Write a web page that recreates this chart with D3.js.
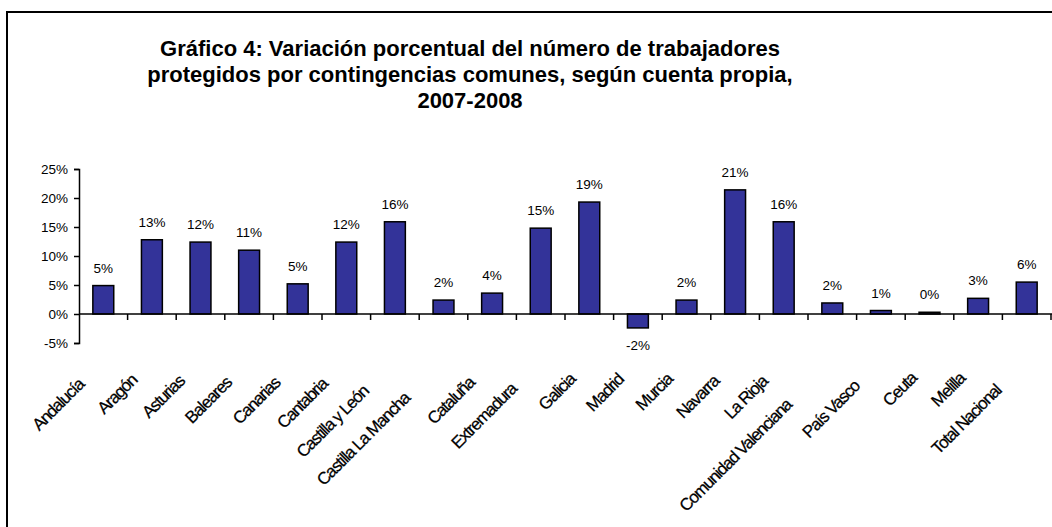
<!DOCTYPE html>
<html>
<head>
<meta charset="utf-8">
<script src="https://cdn.jsdelivr.net/npm/d3@7"></script>
<style>
  body { margin: 0; background: #fff; }
  text { font-family: "Liberation Sans", Arial, sans-serif; }
</style>
</head>
<body>
<svg id="chart" width="1052" height="527"></svg>
<script>
const titleLines = [
  'Gráfico 4: Variación porcentual del número de trabajadores',
  'protegidos por contingencias comunes, según cuenta propia,',
  '2007-2008'
];

const regions = ['Andalucía', 'Aragón', 'Asturias', 'Baleares', 'Canarias', 'Cantabria',
  'Castilla y León', 'Castilla La Mancha', 'Cataluña', 'Extremadura', 'Galicia', 'Madrid',
  'Murcia', 'Navarra', 'La Rioja', 'Comunidad Valenciana', 'País Vasco', 'Ceuta', 'Melilla',
  'Total Nacional'];

const variation = [4.9, 12.8, 12.4, 11.0, 5.2, 12.4, 15.9, 2.4, 3.6, 14.8, 19.3, -2.4,
  2.4, 21.4, 15.9, 1.9, 0.6, 0.3, 2.7, 5.5];

const yTicks = [-5, 0, 5, 10, 15, 20, 25];

const svg = d3.select('#chart');

//outer frame
svg.append('rect')
  .attr('x', 7).attr('y', 12)
  .attr('width', 1100).attr('height', 560)
  .attr('fill', 'none')
  .attr('stroke', '#000')
  .attr('stroke-width', 2);

//title
svg.append('g')
  .selectAll('text')
  .data(titleLines)
  .enter()
  .append('text')
  .attr('x', 470)
  .attr('y', (d, i) => 56 + i * 26)
  .attr('text-anchor', 'middle')
  .attr('font-size', 22)
  .attr('font-weight', 'bold')
  .text(d => d);

//scales
const x = d3.scaleBand().domain(regions).range([79, 1051]).paddingInner(0.57).paddingOuter(0.285);
const y = d3.scaleLinear().domain([-5, 25]).range([343, 169]);

//y axis
const yAxis = d3.axisLeft(y)
  .tickValues(yTicks)
  .tickSize(5)
  .tickPadding(6)
  .tickFormat(d => `${d}%`);

const yAxisGroup = svg.append('g')
  .attr('transform', 'translate(79,0)')
  .call(yAxis);

yAxisGroup.select('.domain').attr('stroke-width', 1.5);
yAxisGroup.selectAll('.tick line').attr('stroke-width', 1.5);
yAxisGroup.selectAll('text')
  .attr('font-size', 13.5)
  .attr('font-family', '"Liberation Sans", Arial, sans-serif');

//bars
svg.append('g')
  .selectAll('rect')
  .data(variation)
  .enter()
  .append('rect')
  .attr('x', (d, i) => x(regions[i]))
  .attr('width', x.bandwidth())
  .attr('y', d => y(Math.max(0, d)))
  .attr('height', d => Math.abs(y(d) - y(0)))
  .attr('fill', '#333399')
  .attr('stroke', '#000')
  .attr('stroke-width', 1.5);

//x axis at zero with ticks between categories
const step = x.step();
const boundaries = regions.map(r => x(r) - step * 0.285 + step);
const xAxisGroup = svg.append('g');

xAxisGroup.append('line')
  .attr('x1', 79).attr('x2', 1052)
  .attr('y1', y(0)).attr('y2', y(0))
  .attr('stroke', '#000')
  .attr('stroke-width', 1.5);

xAxisGroup.selectAll('line.tick')
  .data(boundaries)
  .enter()
  .append('line')
  .attr('class', 'tick')
  .attr('x1', d => d).attr('x2', d => d)
  .attr('y1', y(0)).attr('y2', y(0) + 6)
  .attr('stroke', '#000')
  .attr('stroke-width', 1.5);

//value labels
svg.append('g')
  .selectAll('text')
  .data(variation)
  .enter()
  .append('text')
  .attr('x', (d, i) => x(regions[i]) + x.bandwidth() / 2)
  .attr('y', d => d >= 0 ? y(d) - 13 : y(d) + 22)
  .attr('text-anchor', 'middle')
  .attr('font-size', 13.5)
  .text(d => `${Math.round(d)}%`);

//category labels, rotated
const catLabels = svg.append('g')
  .selectAll('text')
  .data(regions)
  .enter()
  .append('text')
  .attr('font-size', 17)
  .attr('letter-spacing', -1.2)
  .attr('stroke', '#000')
  .attr('stroke-width', 0.25)
  .attr('text-anchor', 'end')
  .text(d => d);

catLabels.each(function (d) {
  const len = this.getComputedTextLength();
  const cx = x(d) + x.bandwidth() / 2 - 2 - 0.25 * len;
  const cy = 370 + 0.24 * len;
  d3.select(this).attr('transform', `translate(${cx},${cy}) rotate(-45)`);
});
</script>
</body>
</html>
